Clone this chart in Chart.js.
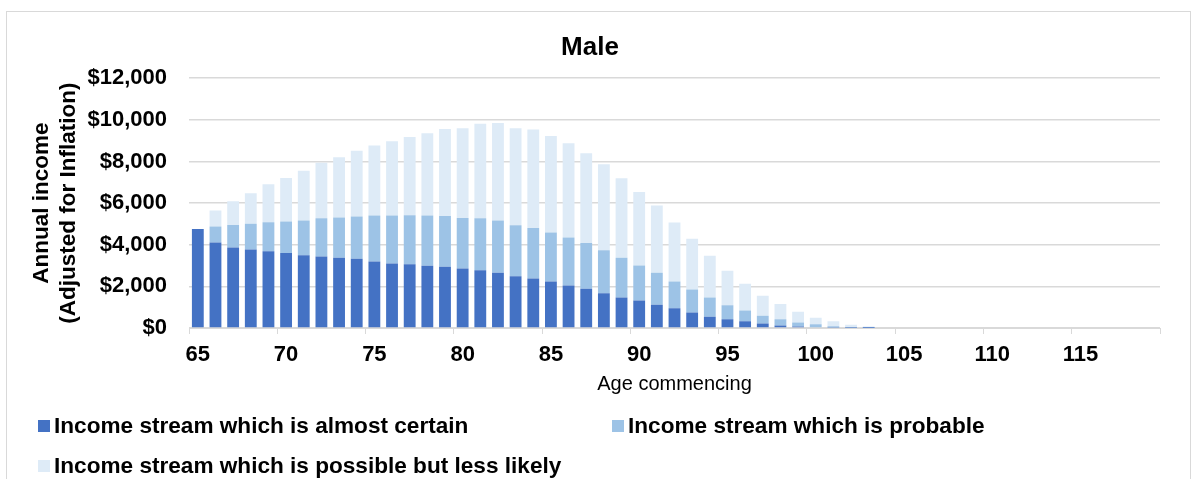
<!DOCTYPE html>
<html>
<head>
<meta charset="utf-8">
<title>Male</title>
<script src="https://cdn.jsdelivr.net/npm/chart.js@4.4.1/dist/chart.umd.min.js"></script>
<style>
    html, body { margin: 0; padding: 0; background: #fff; overflow: hidden; }
    body { width: 1197px; height: 479px; position: relative; font-family: "Liberation Sans", Arial, sans-serif; }
    .frame { position: absolute; left: 6px; top: 11px; right: 6px; bottom: -20px; border: 1px solid #d9d9d9; }
    .wrap { position: absolute; left: 0; top: 0; width: 1197px; height: 479px; }
    .legend-item { position: absolute; display: flex; align-items: center; font-weight: bold; font-size: 22.6px; color: #000; white-space: nowrap; }
    .legend-item span.box { display: inline-block; width: 12px; height: 12px; margin-right: 4px; }
</style>
</head>
<body>
<div class="frame"></div>
<div class="wrap"><canvas id="incomeChart"></canvas></div>
<div id="legend"></div>

<script>
// ==============================
// DATA
// ==============================
const ages = Array.from({ length: 55 }, (_, i) => 65 + i); // 65 .. 119

const almostCertain = [
    4750, 4110, 3870, 3770, 3690, 3600, 3500, 3440, 3370, 3330,
    3200, 3100, 3065, 2990, 2940, 2860, 2780, 2650, 2490, 2380,
    2230, 2040, 1890, 1670, 1460, 1320, 1120, 945, 740, 545,
    415, 320, 220, 125, 75, 40, 20, 8, 3, 0,
    0, 0, 0, 0, 0, 0, 0, 0, 0, 0,
    0, 0, 0, 0, 0,
];
const probable = [
    0, 770, 1075, 1240, 1385, 1520, 1670, 1830, 1940, 2030,
    2200, 2300, 2350, 2420, 2440, 2420, 2490, 2520, 2440, 2420,
    2360, 2310, 2190, 2070, 1910, 1680, 1540, 1290, 1110, 915,
    675, 515, 370, 290, 195, 135, 60, 30, 12, 0,
    0, 0, 0, 0, 0, 0, 0, 0, 0, 0,
    0, 0, 0, 0, 0,
];
const possible = [
    0, 760, 1140, 1460, 1830, 2090, 2380, 2670, 2890, 3150,
    3370, 3570, 3760, 3950, 4180, 4310, 4545, 4675, 4660, 4740,
    4630, 4530, 4320, 4130, 3820, 3530, 3230, 2830, 2440, 2010,
    1660, 1285, 965, 740, 515, 320, 240, 120, 60, 0,
    0, 0, 0, 0, 0, 0, 0, 0, 0, 0,
    0, 0, 0, 0, 0,
];

const seriesNames = [
    "Income stream which is almost certain",
    "Income stream which is probable",
    "Income stream which is possible but less likely",
];
const seriesColors = ["#4472c4", "#9dc3e6", "#deebf7"];

const FONT = '"Liberation Sans", Arial, sans-serif';
const GRID = "#d9d9d9";

// ==============================
// CHART
// ==============================
const chart = new Chart(document.getElementById("incomeChart"), {
    type: "bar",
    data: {
        labels: ages,
        datasets: [almostCertain, probable, possible].map((values, i) => ({
            label: seriesNames[i],
            data: values,
            backgroundColor: seriesColors[i],
            barPercentage: 0.67,
            categoryPercentage: 1,
        })),
    },
    options: {
        responsive: true,
        maintainAspectRatio: false,
        animation: false,
        layout: { padding: { left: 20, right: 37, top: 12, bottom: 83 } },
        plugins: {
            legend: { display: false },
            tooltip: { enabled: false },
            title: {
                display: true,
                text: "Male",
                color: "#000",
                font: { family: FONT, size: 26, weight: "bold" },
                padding: { top: 20, bottom: 15 },
            },
        },
        scales: {
            x: {
                stacked: true,
                offset: true,
                border: { display: true, color: GRID, width: 1 },
                grid: {
                    offset: true,
                    drawOnChartArea: false,
                    drawTicks: true,
                    tickLength: 6,
                    // tick marks only every 5 years
                    color: (ctx) => (ctx.index === undefined || ctx.index % 5 === 0 ? GRID : "rgba(0,0,0,0)"),
                    tickColor: (ctx) => (ctx.index === undefined || ctx.index % 5 === 0 ? GRID : "rgba(0,0,0,0)"),
                },
                ticks: {
                    autoSkip: false,
                    maxRotation: 0,
                    padding: 8,
                    color: "#000",
                    font: { family: FONT, size: 22, weight: "bold" },
                    callback: (value, index) => (index % 5 === 0 ? ages[index] : ""),
                },
                title: {
                    display: true,
                    text: "Age commencing",
                    color: "#000",
                    font: { family: FONT, size: 20 },
                    padding: { top: 4, bottom: 0 },
                },
                afterFit: (scale) => { scale.height = 68; },
            },
            y: {
                stacked: true,
                min: 0,
                max: 12000,
                border: { display: false },
                grid: { color: GRID, lineWidth: 1.5, drawTicks: false },
                ticks: {
                    stepSize: 2000,
                    padding: 22,
                    color: "#000",
                    font: { family: FONT, size: 22, weight: "bold" },
                    callback: (v) => "$" + v.toLocaleString("en-US"),
                },
                title: {
                    display: true,
                    text: ["Annual income", "(Adjusted for Inflation)"],
                    color: "#000",
                    font: { family: FONT, size: 22.5, weight: "bold", lineHeight: 1.2 },
                    padding: { top: 8, bottom: 0 },
                },
                afterFit: (scale) => { scale.width = 169; },
            },
        },
    },
});

// ==============================
// LEGEND (two columns, like the sheet)
// ==============================
const legendSpots = [
    { left: 38, top: 426 },
    { left: 612, top: 426 },
    { left: 38, top: 466 },
];
const legendBox = document.getElementById("legend");
chart.data.datasets.forEach((ds, i) => {
    const item = document.createElement("div");
    item.className = "legend-item";
    item.style.left = legendSpots[i].left + "px";
    item.style.top = legendSpots[i].top - 13 + "px";
    item.style.height = "26px";
    const box = document.createElement("span");
    box.className = "box";
    box.style.background = ds.backgroundColor;
    item.appendChild(box);
    item.appendChild(document.createTextNode(ds.label));
    legendBox.appendChild(item);
});
</script>
</body>
</html>
